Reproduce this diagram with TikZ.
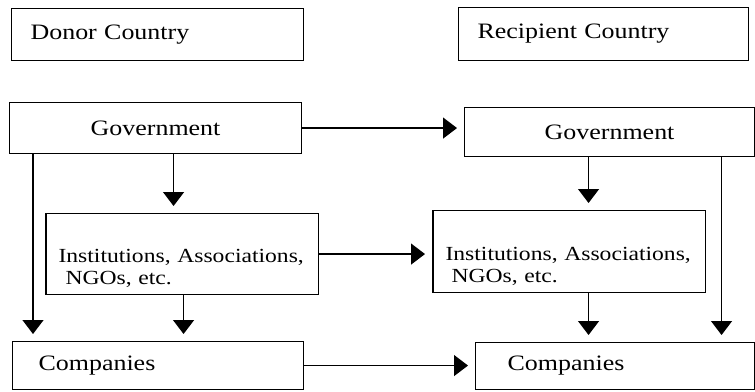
\documentclass[tikz,border=0pt]{standalone}
\usepackage{fontspec}
\setmainfont{Liberation Serif}[FakeStretch=1.18]
\usetikzlibrary{arrows.meta}

\begin{document}
\begin{tikzpicture}[x=1pt,y=-1pt,
	box/.style={draw,line width=1.1pt,rectangle,anchor=north west,inner ysep=0pt},
	bigtext/.style={font=\fontsize{22}{24}\selectfont},
	smalltext/.style={font=\fontsize{20}{22}\selectfont},
	arr/.style={-{Triangle[width=21pt,length=14pt]},line width=1.2pt,shorten >=7pt}]
	\useasboundingbox (0,0) rectangle (755,391);
	
	\node[box,bigtext,minimum width=292pt,minimum height=52pt,text width=254pt,inner xsep=19pt,align=left] (donor) at (11,8) {Donor Country};
	\node[box,bigtext,minimum width=290pt,minimum height=53pt,text width=252pt,inner xsep=19pt,align=left] (recip) at (458,7) {Recipient Country};
	
	\node[box,bigtext,minimum width=292pt,minimum height=51pt] (govL) at (9,102) {Government};
	\node[box,bigtext,minimum width=290pt,minimum height=49pt] (govR) at (464,107) {Government};
	
	\node[box,smalltext,minimum height=81pt,text width=247pt,inner xsep=13pt,align=left,text height=42pt] (instL) at (45,213) {Institutions, Associations,\\\hspace{7pt}NGOs, etc.};
	\node[box,smalltext,minimum height=82pt,text width=247pt,inner xsep=13pt,align=left,text height=42pt] (instR) at (432,210) {Institutions, Associations,\\\hspace{6pt}NGOs, etc.};
	\foreach \n in {instL,instR}
		\draw[line width=2.6pt] ([xshift=1pt]\n.north west) -- ([xshift=1pt]\n.south west);
	
	\node[box,bigtext,minimum width=291pt,minimum height=48pt,text width=239pt,inner xsep=26pt,align=left] (compL) at (12,341) {Companies};
	\node[box,bigtext,minimum width=279pt,minimum height=47pt,text width=215pt,inner xsep=32pt,align=left] (compR) at (475,342) {Companies};
	
	% flows between the two countries
	\draw[arr] (govL.east) -- (govL.east -| govR.west);
	\draw[arr] (instL.east) -- (instL.east -| instR.west);
	\draw[arr] (compL.east) -- (compL.east -| compR.west);
	
	% flows inside each country
	\draw[arr] ([xshift=18pt]govL.south) -- ([xshift=18pt]govL.south |- instL.north);
	\draw[arr] ([xshift=24pt]govL.south west) -- ([xshift=24pt]govL.south west |- compL.north);
	\draw[arr] ([xshift=1.5pt]instL.south) -- ([xshift=1.5pt]instL.south |- compL.north);
	\draw[arr] ([xshift=-21pt]govR.south) -- ([xshift=-21pt]govR.south |- instR.north);
	\draw[arr] ([xshift=112pt]govR.south) -- ([xshift=112pt]govR.south |- compR.north);
	\draw[arr] ([xshift=19.5pt]instR.south) -- ([xshift=19.5pt]instR.south |- compR.north);
\end{tikzpicture}
\end{document}
